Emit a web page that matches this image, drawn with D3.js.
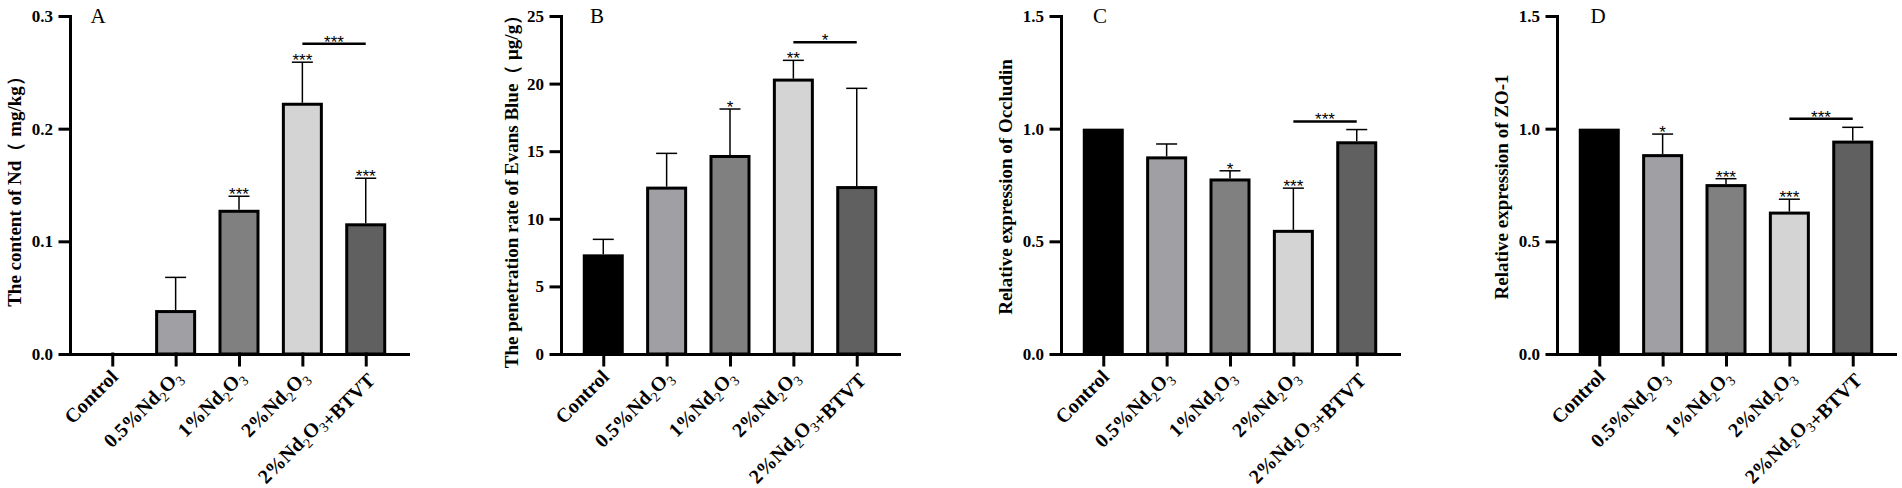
<!DOCTYPE html>
<html>
<head>
<meta charset="utf-8">
<script src="https://cdn.jsdelivr.net/npm/d3@7"></script>
<style>
body { margin: 0; background: #fff; }
text { font-family: "Liberation Serif", "Times New Roman", serif; }
.axis path, .axis line { stroke: #000; stroke-width: 3; stroke-linecap: square; }
.axis text { font-size: 17px; font-weight: bold; fill: #000; }
.star { font-family: "Liberation Sans", Arial, sans-serif; font-size: 17px; }
</style>
</head>
<body>
<svg id="fig" width="1902" height="488"></svg>
<script>
// groups and fills shared by all four panels
const groups = ["Control", "0.5%Nd2O3", "1%Nd2O3", "2%Nd2O3", "2%Nd2O3+BTVT"]
const barFills = ["#000000", "#a0a0a4", "#808080", "#d4d4d4", "#606060"]

// A - Nd content (mg/kg)
const ndMean = [0, 0.039, 0.128, 0.223, 0.116]
const ndSd = [0, 0.029, 0.012, 0.036, 0.040]
const ndStars = ["", "", "***", "***", "***"]
const ndTicks = [0, 0.1, 0.2, 0.3]

// B - Evans Blue (ug/g)
const ebMean = [7.37, 12.38, 14.72, 20.37, 12.42]
const ebSd = [1.11, 2.46, 3.40, 1.35, 7.23]
const ebStars = ["", "", "*", "**", ""]
const ebTicks = [0, 5, 10, 15, 20, 25]

// C - Occludin
const ocMean = [1.0, 0.877, 0.779, 0.551, 0.944]
const ocSd = [0, 0.055, 0.034, 0.185, 0.052]
const ocStars = ["", "", "*", "***", ""]

// D - ZO-1
const zoMean = [1.0, 0.887, 0.754, 0.632, 0.947]
const zoSd = [0, 0.089, 0.024, 0.055, 0.059]
const zoStars = ["", "*", "***", "***", ""]
const relTicks = [0, 0.5, 1.0, 1.5]

// 2% vs 2%+BTVT comparison bar
const bracketLevel = [0.2753, 23.05, 1.032, 1.044]
const bracketStars = ["***", "*", "***", "***"]

const panels = [
    { letter: "A", left: 70, letterX: 98, titleX: 16, max: 0.3, ticks: ndTicks, fmt: ".1f",
      title: "The content of Nd（ mg/kg）", mean: ndMean, sd: ndSd, stars: ndStars },
    { letter: "B", left: 561, letterX: 597, titleX: 513, max: 25, ticks: ebTicks, fmt: "d",
      title: "The penetration rate of Evans Blue（ μg/g）", mean: ebMean, sd: ebSd, stars: ebStars },
    { letter: "C", left: 1061, letterX: 1100, titleX: 1007, max: 1.5, ticks: relTicks, fmt: ".1f",
      title: "Relative expression of Occludin", mean: ocMean, sd: ocSd, stars: ocStars },
    { letter: "D", left: 1557, letterX: 1598, titleX: 1503, max: 1.5, ticks: relTicks, fmt: ".1f",
      title: "Relative expression of ZO-1", mean: zoMean, sd: zoSd, stars: zoStars }
]

const svg = d3.select("#fig")
const yTop = 16, base = 354, plotW = 338, barW = 38, capW = 21

// writes a group name with the 2 and 3 of Nd2O3 as subscripts
const writeLabel = (sel, s) => {
    s.split(/(Nd2O3)/).forEach((part) => {
        if (part == "Nd2O3") {
            sel.append("tspan").text("Nd")
            sel.append("tspan").attr("dy", 5).attr("font-size", "14px").attr("font-weight", "normal").text("2")
            sel.append("tspan").attr("dy", -5).text("O")
            sel.append("tspan").attr("dy", 5).attr("font-size", "14px").attr("font-weight", "normal").text("3")
            sel.append("tspan").attr("dy", -5).text("")
        } else if (part != "") {
            sel.append("tspan").text(part)
        }
    })
}

panels.forEach((p, pi) => {
    const g = svg.append("g")
    const y = d3.scaleLinear().domain([0, p.max]).range([base, yTop])
    const x = d3.scalePoint().domain(groups).range([p.left, p.left + plotW]).padding(0.667)

    const rows = groups.map((k, i) => ({ k: k, v: p.mean[i], sd: p.sd[i], star: p.stars[i], fill: barFills[i] }))

    // bars
    g.selectAll("rect.bar")
        .data(rows.filter((d) => d.v > 0))
        .enter()
        .append("rect")
        .attr("class", "bar")
        .attr("x", (d) => x(d.k) - barW / 2)
        .attr("y", (d) => y(d.v) + 1.5)
        .attr("width", barW)
        .attr("height", (d) => base - y(d.v) - 1.5)
        .attr("fill", (d) => d.fill)
        .attr("stroke", "#000")
        .attr("stroke-width", 3)

    // upper error bars
    const err = rows.filter((d) => d.sd > 0)
    g.selectAll("line.err")
        .data(err)
        .enter()
        .append("line")
        .attr("x1", (d) => x(d.k))
        .attr("x2", (d) => x(d.k))
        .attr("y1", (d) => y(d.v))
        .attr("y2", (d) => y(d.v + d.sd))
        .attr("stroke", "#000")
        .attr("stroke-width", 1.5)
    g.selectAll("line.cap")
        .data(err)
        .enter()
        .append("line")
        .attr("x1", (d) => x(d.k) - capW / 2)
        .attr("x2", (d) => x(d.k) + capW / 2)
        .attr("y1", (d) => y(d.v + d.sd))
        .attr("y2", (d) => y(d.v + d.sd))
        .attr("stroke", "#000")
        .attr("stroke-width", 1.5)

    g.selectAll("text.sig")
        .data(rows.filter((d) => d.star != ""))
        .enter()
        .append("text")
        .attr("class", "star")
        .attr("x", (d) => x(d.k))
        .attr("y", (d) => y(d.v + d.sd) + 4)
        .attr("text-anchor", "middle")
        .text((d) => d.star)

    // comparison bracket
    const by = y(bracketLevel[pi])
    g.append("line")
        .attr("x1", x(groups[3]))
        .attr("x2", x(groups[4]))
        .attr("y1", by)
        .attr("y2", by)
        .attr("stroke", "#000")
        .attr("stroke-width", 2.5)
    g.append("text")
        .attr("class", "star")
        .attr("x", (x(groups[3]) + x(groups[4])) / 2)
        .attr("y", by + 4)
        .attr("text-anchor", "middle")
        .text(bracketStars[pi])

    // axes
    g.append("g")
        .attr("class", "axis")
        .attr("transform", `translate(0, ${base})`)
        .call(d3.axisBottom(x).tickSize(11).tickSizeOuter(0).tickFormat(""))
    g.append("g")
        .attr("class", "axis")
        .attr("transform", `translate(${p.left}, 0)`)
        .call(d3.axisLeft(y).tickValues(p.ticks).tickFormat(d3.format(p.fmt)).tickSize(10).tickSizeOuter(0).tickPadding(7))

    // group labels
    groups.forEach((k) => {
        const t = g.append("text")
            .attr("transform", `translate(${x(k) + 7}, ${base + 24}) rotate(-45)`)
            .attr("text-anchor", "end")
            .attr("font-size", "20px")
            .attr("font-weight", "bold")
        writeLabel(t, k)
    })

    g.append("text")
        .attr("transform", `translate(${p.titleX + 5}, 187) rotate(-90)`)
        .attr("text-anchor", "middle")
        .attr("font-size", "19px")
        .attr("font-weight", "bold")
        .text(p.title)

    g.append("text")
        .attr("x", p.letterX)
        .attr("y", 23)
        .attr("text-anchor", "middle")
        .attr("font-size", "21px")
        .text(p.letter)
})
</script>
</body>
</html>
